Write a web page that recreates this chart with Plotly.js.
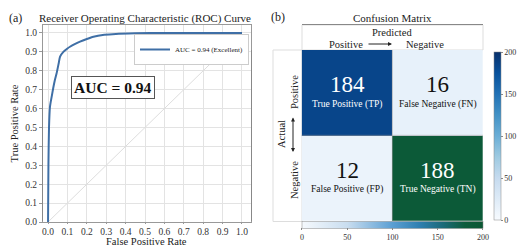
<!DOCTYPE html>
<html>
<head>
<meta charset="utf-8">
<script src="https://cdn.plot.ly/plotly-3.0.1.min.js"></script>
<style>html,body{margin:0;padding:0;background:#fff;}#chart{width:518px;height:248px;}</style>
</head>
<body>
<div id="chart"></div>
<script>
// ---- data ----
const fpr = [0, 0.002, 0.005, 0.01, 0.02, 0.027, 0.035, 0.045, 0.055, 0.062, 0.079, 0.1, 0.113, 0.14, 0.165, 0.2, 0.234, 0.29, 0.35, 0.45, 0.6, 0.8, 1.0];
const tpr = [0, 0.3, 0.5, 0.61, 0.67, 0.71, 0.75, 0.79, 0.84, 0.875, 0.9, 0.918, 0.927, 0.942, 0.954, 0.968, 0.98, 0.99, 0.995, 0.998, 1.0, 1.0, 1.0];
const chanceX = [0, 1];
const chanceY = [0, 1];
const rocName = 'AUC = 0.94 (Excellent)';
const aucText = 'AUC = 0.94';

const cmClasses = ['Positive', 'Negative'];
const cmValues = [[184, 16], [12, 188]];
const cmNames = [['True Positive (TP)', 'False Negative (FN)'], ['False Positive (FP)', 'True Negative (TN)']];
const cbTicks = [0, 50, 100, 150, 200];

// ---- helpers ----
const W = 518, H = 248;
const px = x => x / W;
const py = y => 1 - y / H;
const FONT = 'Liberation Serif, Times New Roman, serif';

const blues = [[0, '#f7fbff'], [0.125, '#deebf7'], [0.25, '#c6dbef'], [0.375, '#9ecae1'], [0.5, '#6baed6'], [0.625, '#4292c6'], [0.75, '#2171b5'], [0.875, '#08519c'], [1, '#08306b']];
const blueGreen = [[0, '#f5f9fd'], [0.25, '#c9ddef'], [0.5, '#5b9fd3'], [0.65, '#2f7fb0'], [0.78, '#1b6a78'], [0.9, '#0d5c3c'], [1, '#0b5733']];

// split matrix: TN drawn with the green scale, the rest with blues
const zBlue = cmValues.map((row, i) => row.map((v, j) => (i === 1 && j === 1) ? null : v));
const zGreen = cmValues.map((row, i) => row.map((v, j) => (i === 1 && j === 1) ? v : null));
const cmIdx = [0, 1];

const traces = [
  {x: chanceX, y: chanceY, type: 'scatter', mode: 'lines', line: {color: '#dddddd', width: 1}, showlegend: false, hoverinfo: 'skip', xaxis: 'x', yaxis: 'y'},
  {x: fpr, y: tpr, type: 'scatter', mode: 'lines', name: rocName, line: {color: '#3f6fa6', width: 2, shape: 'spline', smoothing: 0.6}, xaxis: 'x', yaxis: 'y'},
  {z: zBlue, x: cmIdx, y: cmIdx, type: 'heatmap', colorscale: blues, zmin: 0, zmax: 200, xaxis: 'x2', yaxis: 'y2', showlegend: false,
   colorbar: {x: px(494), xanchor: 'left', y: py(136), yanchor: 'middle', len: 168, lenmode: 'pixels', thickness: 7, thicknessmode: 'pixels',
              xpad: 0, ypad: 0, outlinewidth: 0.5, outlinecolor: '#888', tickvals: cbTicks, ticks: 'outside', ticklen: 2, tickcolor: '#888',
              tickfont: {size: 8, family: FONT, color: '#333'}}},
  {z: zGreen, x: cmIdx, y: cmIdx, type: 'heatmap', colorscale: blueGreen, zmin: 0, zmax: 200, xaxis: 'x2', yaxis: 'y2', showlegend: false,
   colorbar: {orientation: 'h', x: px(392.4), xanchor: 'center', y: py(231.5), yanchor: 'middle', len: 181, lenmode: 'pixels', thickness: 7, thicknessmode: 'pixels',
              xpad: 0, ypad: 0, outlinewidth: 0.5, outlinecolor: '#888', tickvals: cbTicks, ticks: 'outside', ticklen: 2, tickcolor: '#888',
              tickfont: {size: 8, family: FONT, color: '#333'}}}
];

function label(text, x, y, size, extra) {
  return Object.assign({text: text, x: px(x), y: py(y), xref: 'paper', yref: 'paper', xanchor: 'center', yanchor: 'middle',
    showarrow: false, font: {size: size, family: FONT, color: '#222'}}, extra || {});
}

const annotations = [
  label('(a)', 15, 18, 12),
  label('Receiver Operating Characteristic (ROC) Curve', 145, 18, 11),
  label('<b>' + aucText + '</b>', 113, 87, 15.5, {font: {size: 15.5, family: FONT, color: '#111'}, bgcolor: '#ffffff', bordercolor: '#555', borderwidth: 1, borderpad: 2}),
  label('False Positive Rate', 146.5, 241.5, 10.5),
  label('(b)', 278, 17, 12),
  label('Confusion Matrix', 392, 18, 11),
  label('Predicted', 392, 32, 10.5),
  label(cmClasses[0], 346, 44, 10.5),
  label(cmClasses[1], 425, 44, 10.5),
  {text: '', x: px(392), y: py(44), xref: 'paper', yref: 'paper', showarrow: true, ax: -25, ay: 0, arrowhead: 2, arrowsize: 0.8, arrowwidth: 1, arrowcolor: '#222', standoff: 0},
  label('Actual', 281, 134, 10.5, {textangle: -90}),
  label(cmClasses[0], 294, 92, 10.5, {textangle: -90}),
  label(cmClasses[1], 294, 180, 10.5, {textangle: -90}),
  {text: '', x: px(293), y: py(152), xref: 'paper', yref: 'paper', showarrow: true, ax: 0, ay: -36, arrowhead: 2, startarrowhead: 2, arrowside: 'end+start', arrowsize: 0.8, arrowwidth: 1, arrowcolor: '#222', standoff: 0, startstandoff: 0}
];

cmValues.forEach((row, i) => row.forEach((v, j) => {
  const dark = v > 100;
  annotations.push({text: String(v), x: j, y: i, xref: 'x2', yref: 'y2', yshift: 8, showarrow: false,
    font: {size: 23, family: FONT, color: dark ? '#ffffff' : '#111'}});
  annotations.push({text: cmNames[i][j], x: j, y: i, xref: 'x2', yref: 'y2', yshift: -11.5, showarrow: false,
    font: {size: 9.5, family: FONT, color: dark ? '#ffffff' : '#111'}});
}));

const shapes = [
  {type: 'rect', xref: 'paper', yref: 'paper', x0: px(302), x1: px(483), y0: py(50), y1: py(25), line: {color: '#dddddd', width: 1}, layer: 'below'},
  {type: 'rect', xref: 'paper', yref: 'paper', x0: px(273), x1: px(302), y0: py(221.5), y1: py(50), line: {color: '#dddddd', width: 1}, layer: 'below'},
  {type: 'line', xref: 'x2 domain', yref: 'y2 domain', x0: 0.5, x1: 0.5, y0: 0, y1: 1, line: {color: '#999', width: 0.6}},
  {type: 'line', xref: 'x2 domain', yref: 'y2 domain', x0: 0, x1: 1, y0: 0.5, y1: 0.5, line: {color: '#999', width: 0.6}}
];

const tickfont = {size: 9.5, family: FONT, color: '#333'};
const layout = {
  width: W, height: H,
  margin: {l: 0, r: 0, t: 0, b: 0},
  paper_bgcolor: '#ffffff', plot_bgcolor: '#ffffff',
  font: {family: FONT, color: '#222'},
  showlegend: true,
  legend: {x: px(249), xanchor: 'right', y: py(34), yanchor: 'top', bgcolor: '#ffffff', bordercolor: '#cccccc', borderwidth: 1,
           font: {size: 7, family: FONT, color: '#222'}, itemwidth: 30, tracegroupgap: 0},
  xaxis: {domain: [px(43), px(250.5)], range: [-0.026, 1.044], dtick: 0.1, tick0: 0, tickformat: '.1f',
          showgrid: true, gridcolor: '#e3e3e3', gridwidth: 1, zeroline: false, showline: true, mirror: true, linecolor: '#999', linewidth: 1,
          ticks: 'outside', ticklen: 1, tickcolor: '#999', tickfont: tickfont, automargin: false},
  yaxis: {domain: [py(222), py(25)], range: [0, 1.042], dtick: 0.1, tick0: 0, tickformat: '.1f',
          showgrid: true, gridcolor: '#e3e3e3', gridwidth: 1, zeroline: false, showline: true, mirror: true, linecolor: '#999', linewidth: 1,
          ticks: 'outside', ticklen: 3, tickcolor: '#999', tickfont: tickfont, automargin: false,
          title: {text: 'True Positive Rate', font: {size: 10.5, family: FONT, color: '#222'}, standoff: 4}},
  xaxis2: {domain: [px(301.7), px(483)], range: [-0.5, 1.5], showgrid: false, zeroline: false, showticklabels: false, ticks: '',
           showline: true, mirror: true, linecolor: '#888', linewidth: 1, fixedrange: true},
  yaxis2: {domain: [py(220.7), py(50)], range: [1.5, -0.5], showgrid: false, zeroline: false, showticklabels: false, ticks: '',
           showline: true, mirror: true, linecolor: '#888', linewidth: 1, fixedrange: true},
  annotations: annotations,
  shapes: shapes
};

Plotly.newPlot('chart', traces, layout, {displayModeBar: false, staticPlot: true});
</script>
</body>
</html>
